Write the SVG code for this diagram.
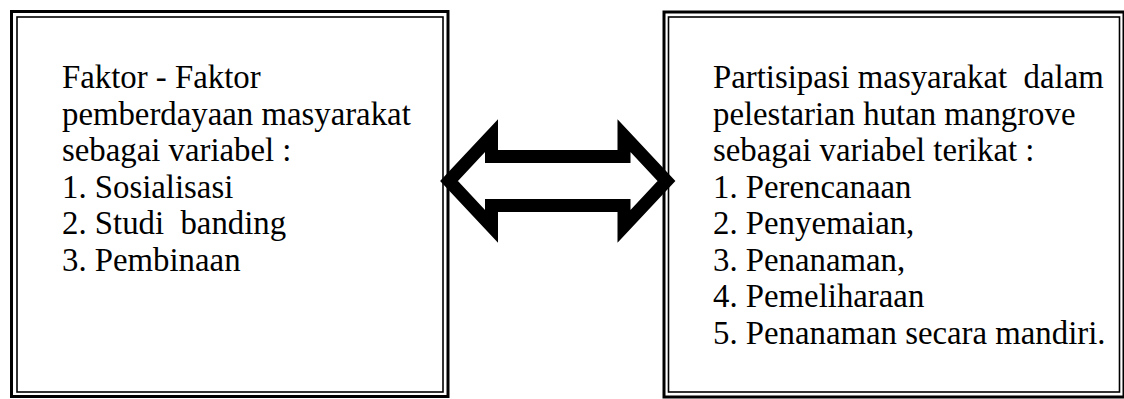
<svg xmlns="http://www.w3.org/2000/svg" width="1124" height="399" viewBox="0 0 1124 399">
  <style>
    .outer { fill: none; stroke: #000; stroke-width: 3; }
    .inner { fill: none; stroke: #000; stroke-width: 1.6; }
    .label { font-family: "Liberation Serif", "Times New Roman", serif; font-size: 32.8px; fill: #000; }
    .arrow { fill: #fff; stroke: #000; stroke-width: 13; stroke-linejoin: miter; stroke-miterlimit: 10; }
  </style>
  <rect x="0" y="0" width="1124" height="399" fill="#fff"/>
  <g id="node-faktor">
    <rect class="outer" x="11.5" y="11.5" width="436.5" height="385"/>
    <rect class="inner" x="17" y="17" width="426" height="375"/>
    <text class="label" xml:space="preserve"><tspan x="62" y="88">Faktor - Faktor</tspan><tspan x="62" y="124.5">pemberdayaan masyarakat</tspan><tspan x="62" y="161">sebagai variabel :</tspan><tspan x="62" y="197.5">1. Sosialisasi</tspan><tspan x="62" y="234">2. Studi  banding</tspan><tspan x="62" y="270.5">3. Pembinaan</tspan></text>
  </g>
  <g id="node-partisipasi">
    <rect class="outer" x="664" y="12" width="460" height="385"/>
    <rect class="inner" x="668.5" y="17" width="451" height="375"/>
    <text class="label" xml:space="preserve"><tspan x="713" y="88">Partisipasi masyarakat  dalam</tspan><tspan x="713" y="124.5">pelestarian hutan mangrove</tspan><tspan x="713" y="161">sebagai variabel terikat :</tspan><tspan x="713" y="197.5">1. Perencanaan</tspan><tspan x="713" y="234">2. Penyemaian,</tspan><tspan x="713" y="270.5">3. Penanaman,</tspan><tspan x="713" y="307">4. Pemeliharaan</tspan><tspan x="713" y="343.5">5. Penanaman secara mandiri.</tspan></text>
  </g>
  <g id="connectors">
    <polygon class="arrow" points="449,181 491.5,135.6 491.5,156.5 624,156.5 624,135.6 666.5,181 624,226.4 624,205.5 491.5,205.5 491.5,226.4"/>
  </g>
</svg>
